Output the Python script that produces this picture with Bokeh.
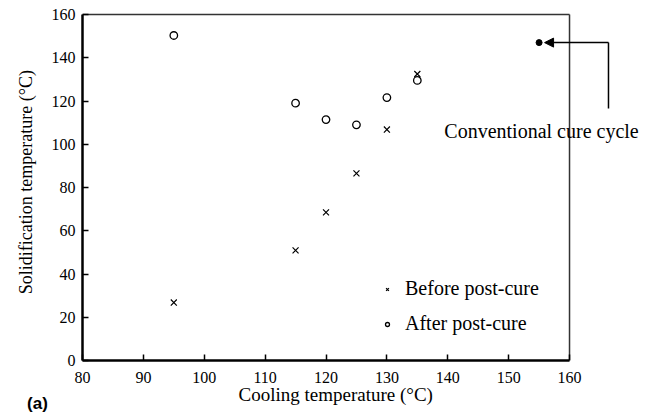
import math
from bokeh.plotting import figure
from bokeh.models import Range1d, Legend, LegendItem, Arrow, NormalHead, Label, FixedTicker
from bokeh.embed import file_html
from bokeh.resources import INLINE

cool_temp = [95, 115, 120, 125, 130, 135]
before_post = [26.8, 50.9, 68.5, 86.5, 106.8, 132.5]
after_post = [150.3, 119.0, 111.4, 109.0, 121.6, 129.5]
conv_x = [155]
conv_y = [147]
x_ticks = [80, 90, 100, 110, 120, 130, 140, 150, 160]
y_ticks = [0, 20, 40, 60, 80, 100, 120, 140, 160]

SERIF = "Liberation Serif"

p = figure(width=654, height=416, output_backend="svg", toolbar_location=None,
           x_range=Range1d(80, 173.63), y_range=Range1d(0, 161.85),
           min_border_left=82, min_border_right=2, min_border_top=10, min_border_bottom=56)
p.background_fill_color = "white"
p.border_fill_color = "white"
p.outline_line_color = None
p.xgrid.visible = False
p.ygrid.visible = False

for ax in (p.xaxis[0], p.yaxis[0]):
    ax.axis_line_width = 2.5
    ax.axis_line_color = "black"
    ax.major_tick_in = 6
    ax.major_tick_out = 0
    ax.major_tick_line_width = 1.5
    ax.minor_tick_line_color = None
    ax.major_label_text_font = SERIF
    ax.major_label_text_font_size = "16px"
    ax.major_label_text_color = "black"

p.xaxis.ticker = FixedTicker(ticks=x_ticks)
p.yaxis.ticker = FixedTicker(ticks=y_ticks)
p.xaxis.bounds = (80, 160)
p.yaxis.bounds = (0, 160)
p.xaxis.major_label_standoff = 11
p.yaxis.major_label_standoff = 7

# plot frame (top and right edges)
p.segment(x0=[80, 160], y0=[160, 0], x1=[160, 160], y1=[160, 160],
          line_color="#333333", line_width=1.5)

r_before = p.scatter(cool_temp, before_post, marker="x", size=8.5, line_color="black", line_width=1.2)
r_after = p.scatter(cool_temp, after_post, marker="circle", size=7.5, line_color="black",
                    fill_color="white", line_width=1.3)
p.scatter(conv_x, conv_y, marker="circle", size=6, line_color="black", fill_color="black")

legend = Legend(items=[LegendItem(label="Before post-cure", renderers=[r_before]),
                       LegendItem(label="After post-cure", renderers=[r_after])],
                location=(300, 25), border_line_color=None, background_fill_alpha=0,
                padding=0, margin=0, spacing=12, glyph_width=10, glyph_height=20,
                label_height=20, label_standoff=13,
                label_text_font=SERIF, label_text_font_size="20px", label_text_color="black")
p.add_layout(legend, "center")

p.add_layout(Arrow(x_start=166.4, y_start=147, x_end=155.9, y_end=147,
                   line_color="black", line_width=1.5,
                   end=NormalHead(size=9, fill_color="black", line_color="black")))
p.add_layout(Arrow(x_start=166.4, y_start=147, x_end=166.4, y_end=116.5,
                   line_color="black", line_width=1.5, end=None))
p.add_layout(Label(x=155.4, y=105.9, text="Conventional cure cycle", text_align="center",
                   text_baseline="alphabetic", text_font=SERIF, text_font_size="20px",
                   text_color="black"))

# x-axis title, centred under the 80-160 span of the axis
p.add_layout(Label(x=121.6, y=-15.8, text="Cooling temperature (°C)", text_align="center",
                   text_baseline="alphabetic", text_font=SERIF, text_font_size="19px",
                   text_color="black"), "below")
# y-axis title
p.add_layout(Label(x=70.7, y=82.5, text="Solidification temperature (°C)", angle=math.pi / 2,
                   text_align="center", text_baseline="middle", text_font=SERIF,
                   text_font_size="18px", text_color="black"), "left")
# panel tag
p.add_layout(Label(x=70.9, y=-19.9, text="(a)", text_align="left", text_baseline="alphabetic",
                   text_font="Liberation Sans", text_font_style="bold", text_font_size="17px",
                   text_color="black"), "left")

open("out.html", "w").write(file_html(p, INLINE))
